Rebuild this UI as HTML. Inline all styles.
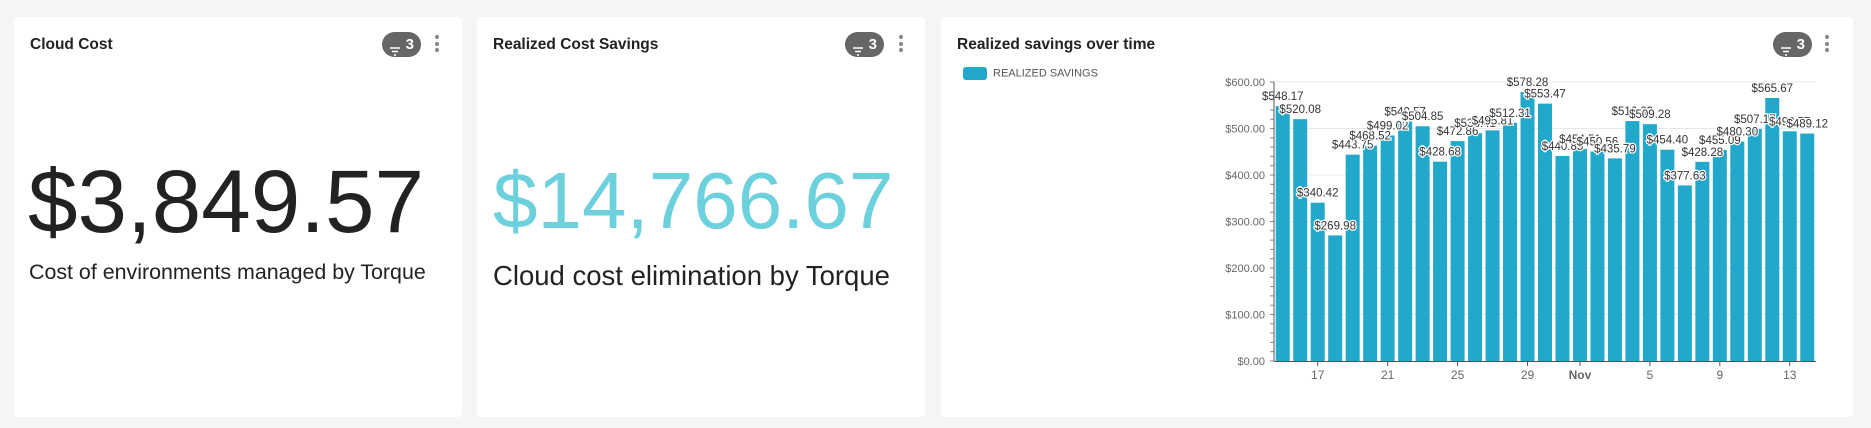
<!DOCTYPE html>
<html><head><meta charset="utf-8"><style>
body{margin:0;width:1871px;height:428px;background:#f5f5f5;font-family:"Liberation Sans",sans-serif;position:relative;overflow:hidden}
.card{position:absolute;top:17px;height:400px;background:#fff;border-radius:4px}
.title{position:absolute;top:36px;font-size:15.5px;font-weight:bold;color:#222}
.badge{position:absolute;top:32px;width:39px;height:25px;border-radius:13px;background:#666;color:#fff;font-weight:bold;font-size:15px;line-height:25px}
.badge span{position:absolute;right:7px}
.badge i{position:absolute;left:8px;top:8px;width:10px;height:10px}
.kebab{position:absolute;top:35px;width:4px}
.kebab b{display:block;width:4px;height:4px;border-radius:2px;background:#888;margin-bottom:2.5px}
.big{position:absolute;font-size:88px;line-height:1;white-space:nowrap}
.sub{position:absolute;white-space:nowrap;color:#222}
</style></head><body>
<div class="card" style="left:14px;width:448px">
  <div class="title" style="left:16px;top:19px">Cloud Cost</div>
  <div class="badge" style="left:368px;top:15px"><i><svg width="10" height="10"><path d="M0 1h10M2 4.5h6M4 8h2" stroke="#fff" stroke-width="1.5"/></svg></i><span>3</span></div>
  <div class="kebab" style="left:421px;top:18px"><b></b><b></b><b></b></div>
  <div class="big" style="left:14px;top:140px;color:#222;font-size:89px">$3,849.57</div>
  <div class="sub" style="left:15px;top:243px;font-size:21.4px">Cost of environments managed by Torque</div>
</div>
<div class="card" style="left:477px;width:448px">
  <div class="title" style="left:16px;top:19px">Realized Cost Savings</div>
  <div class="badge" style="left:368px;top:15px"><i><svg width="10" height="10"><path d="M0 1h10M2 4.5h6M4 8h2" stroke="#fff" stroke-width="1.5"/></svg></i><span>3</span></div>
  <div class="kebab" style="left:422px;top:18px"><b></b><b></b><b></b></div>
  <div class="big" style="left:16px;top:144px;color:#6dd0dd;font-size:80px">$14,766.67</div>
  <div class="sub" style="left:16px;top:243px;font-size:27.5px">Cloud cost elimination by Torque</div>
</div>
<div class="card" style="left:941px;width:912px">
  <div class="title" style="left:16px;top:19px">Realized savings over time</div>
  <div class="badge" style="left:832px;top:15px"><i><svg width="10" height="10"><path d="M0 1h10M2 4.5h6M4 8h2" stroke="#fff" stroke-width="1.5"/></svg></i><span>3</span></div>
  <div class="kebab" style="left:884px;top:18px"><b></b><b></b><b></b></div>
  <div style="position:absolute;left:22px;top:50px;font-size:11px;color:#555;white-space:nowrap"><span style="display:inline-block;width:24px;height:13px;background:#21a8cb;border-radius:3px;vertical-align:middle;margin-right:6px"></span>REALIZED SAVINGS</div>
</div>
<svg id="chart" width="1871" height="428" style="position:absolute;left:0;top:0" font-family="Liberation Sans, sans-serif"></svg>
<script>
const values=[548.17,520.08,340.42,269.98,443.75,463,485,515,504.85,428.68,472.86,490,496,512.31,578.28,553.47,440.85,456,450.56,435.79,516,509.28,454.40,377.63,428.28,454,472,499,565.67,494,489.12];
const labels=["$548.17","$520.08","$340.42","$269.98","$443.75","$468.52","$499.02","$540.57","$504.85","$428.68","$472.86","$533.41","$495.81","$512.31","$578.28","$553.47","$440.85","$454.51","$450.56","$435.79","$516.03","$509.28","$454.40","$377.63","$428.28","$455.09","$480.30","$507.17","$565.67","$493.77","$489.12"];
const yTicks=[0,100,200,300,400,500,600];
const xTickIdx=[2,6,10,14,17,21,25,29];
const xTickLabels=["17","21","25","29","Nov","5","9","13"];
const NS="http://www.w3.org/2000/svg";
const svg=document.getElementById('chart');
const X0=1274,X1=1816,Y0=361,Y1=82,yMax=600;
const band=(X1-X0)/values.length;
const y=v=>Y0-(v/yMax)*(Y0-Y1);
const xc=i=>X0+band*(i+0.5);
function mk(t,a){const e=document.createElementNS(NS,t);for(const k in a)e.setAttribute(k,a[k]);svg.appendChild(e);return e;}
yTicks.forEach(t=>{
  if(t>0){const g=mk('line',{x1:X0,x2:X1,y1:y(t),y2:y(t),stroke:'#e3e8f1','stroke-width':1});
  
  }
  const l=mk('text',{x:X0-9,y:y(t)+4,'text-anchor':'end','font-size':11,fill:'#666'});
  l.textContent='$'+t.toFixed(2);
  
  
});
for(let v=0;v<=yMax;v+=20){mk('line',{x1:X0-4,x2:X0,y1:y(v),y2:y(v),stroke:'#888','stroke-width':1});}
values.forEach((v,i)=>{
  const r=mk('rect',{x:xc(i)-7,y:y(v),width:14,height:Y0-y(v),fill:'#21a8cb'});
  
  
});
values.forEach((v,i)=>{
  const t=mk('text',{x:xc(i),y:y(v)-6,'text-anchor':'middle','font-size':11.5,fill:'#333',stroke:'#fff','stroke-width':2.5,'paint-order':'stroke'});
  t.textContent=labels[i];
  
  
});
mk('line',{x1:X0,x2:X0,y1:Y1,y2:Y0,stroke:'#555','stroke-width':1});
mk('line',{x1:X0,x2:X1,y1:Y0+0.5,y2:Y0+0.5,stroke:'#555','stroke-width':1});
xTickIdx.forEach((idx,k)=>{
  mk('line',{x1:xc(idx),x2:xc(idx),y1:Y0,y2:Y0+5,stroke:'#555'});
  const t=mk('text',{x:xc(idx),y:Y0+18,'text-anchor':'middle','font-size':12,fill:'#666','font-weight':xTickLabels[k]==='Nov'?'bold':'normal'});
  t.textContent=xTickLabels[k];
  
  
});
</script>
</body></html>
